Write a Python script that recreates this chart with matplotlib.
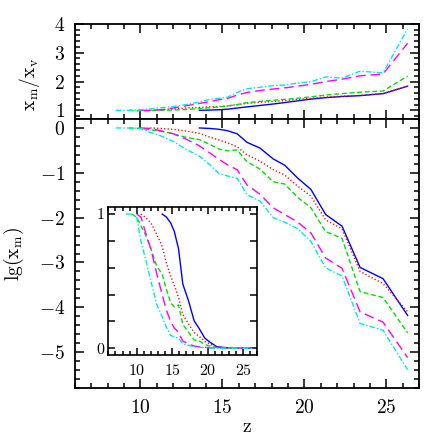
import numpy as np
import matplotlib
matplotlib.use('Agg')
import matplotlib.pyplot as plt
from matplotlib.ticker import MultipleLocator, FixedLocator, NullFormatter, FixedFormatter

plt.rcParams['font.family'] = ['cmr10', 'DejaVu Serif']
plt.rcParams['mathtext.fontset'] = 'cm'
plt.rcParams['axes.formatter.use_mathtext'] = True

nan = np.nan
z = [8.5, 9.3, 10.0, 10.6, 11.2, 12.0, 12.8, 13.6, 14.2, 14.8, 15.3, 15.9,
     16.5, 17.3, 18.1, 18.8, 19.6, 20.4, 21.3, 22.3, 23.4, 24.8, 26.3]

lg_blue = [nan]*7 + [0, -0.01, -0.03, -0.06, -0.13, -0.32, -0.45, -0.69, -0.83,
                     -1.12, -1.37, -1.93, -2.19, -3.11, -3.36, -4.18]
lg_red = [nan]*3 + [0.0, -0.01, -0.03, -0.07, -0.12, -0.2, -0.27, -0.33, -0.42,
                    -0.6, -0.74, -0.93, -1.05, -1.3, -1.52, -2.05, -2.25, -3.2,
                    -3.47, -4.1]
lg_green = [nan] + [0, -0.01, -0.04, -0.07, -0.13, -0.21, -0.26, -0.36, -0.47,
                    -0.51, -0.49, -0.75, -0.92, -1.2, -1.25, -1.55, -1.78, -2.31,
                    -2.46, -3.65, -3.78, -4.57]
lg_magenta = [nan]*2 + [0, -0.01, -0.06, -0.13, -0.25, -0.4, -0.55, -0.7, -0.82,
                        -0.93, -1.27, -1.48, -1.78, -1.93, -2.1, -2.34, -2.9,
                        -3.13, -4.1, -4.33, -5.12]
lg_cyan = [0, 0, -0.01, -0.1, -0.17, -0.3, -0.48, -0.63, -0.81, -1.02, -1.07,
           -1.12, -1.49, -1.63, -2.0, -2.1, -2.25, -2.53, -3.12, -3.3, -4.36,
           -4.51, -5.39]

ratio_blue = [nan]*7 + [1.0, 1.01, 1.02, 1.04, 1.08, 1.12, 1.17, 1.22, 1.27,
                        1.33, 1.39, 1.44, 1.48, 1.51, 1.58, 1.84]
ratio_red = [nan]*3 + [1.0, 1.02, 1.05, 1.08, 1.1, 1.12, 1.13, 1.15, 1.2, 1.24,
                       1.28, 1.31, 1.34, 1.38, 1.42, 1.46, 1.49, 1.52, 1.58, 1.84]
ratio_green = [nan] + [1.0, 0.98, 0.99, 1.0, 1.01, 1.03, 1.06, 1.09, 1.12, 1.15,
                       1.2, 1.27, 1.31, 1.35, 1.38, 1.42, 1.47, 1.53, 1.58, 1.63,
                       1.67, 2.19]
ratio_magenta = [nan]*2 + [1.0, 1.0, 1.02, 1.08, 1.16, 1.24, 1.3, 1.37, 1.41,
                           1.53, 1.62, 1.69, 1.74, 1.78, 1.84, 1.9, 2.0, 2.08,
                           2.2, 2.26, 3.33]
ratio_cyan = [1.0, 1.0, 1.02, 1.05, 1.09, 1.13, 1.2, 1.29, 1.38, 1.42, 1.45,
              1.62, 1.75, 1.8, 1.86, 1.88, 1.95, 1.99, 2.16, 2.12, 2.36, 2.3, 3.83]

styles = [
    dict(color='#0000ff', ls='-'),
    dict(color='#ff0000', ls=(0, (0.9, 1.6))),
    dict(color='#00e000', ls=(0, (3.5, 2.0))),
    dict(color='#ff00ff', ls=(0, (7.0, 3.5))),
    dict(color='#00e8e8', ls=(0, (4.0, 1.5, 1.0, 1.5))),
]
lg_all = [lg_blue, lg_red, lg_green, lg_magenta, lg_cyan]
ratio_all = [ratio_blue, ratio_red, ratio_green, ratio_magenta, ratio_cyan]

fig = plt.figure(figsize=(4.43, 4.43), dpi=100)
L, R = 0.169, 0.946
ax_top = fig.add_axes([L, 0.7314, R - L, 0.946 - 0.7314])
ax = fig.add_axes([L, 0.124, R - L, 0.7314 - 0.124])
ax_in = fig.add_axes([0.2445, 0.1986, 0.3363, 0.3348])

def style_axes(a, maj, mnr, lab=14, lw=1.3):
    a.tick_params(which='both', direction='in', top=True, right=True,
                  width=1.1, labelsize=lab)
    a.tick_params(which='major', length=maj)
    a.tick_params(which='minor', length=mnr)
    for s in a.spines.values():
        s.set_linewidth(lw)

for y, st in zip(ratio_all, styles):
    ax_top.plot(z, y, lw=1.0, **st)
for y, st in zip(lg_all, styles):
    ax.plot(z, y, lw=1.0, **st)
for y, st in zip(lg_all, styles):
    ax_in.plot(z, 10 ** np.array(y), lw=1.0, **st)

# top panel
ax_top.set_xlim(6, 27)
ax_top.set_ylim(0.7, 4)
ax_top.xaxis.set_major_locator(MultipleLocator(5))
ax_top.xaxis.set_minor_locator(MultipleLocator(1))
ax_top.xaxis.set_major_formatter(NullFormatter())
ax_top.yaxis.set_major_locator(MultipleLocator(1))
ax_top.yaxis.set_minor_locator(MultipleLocator(0.2))
style_axes(ax_top, 6.5, 3.5)
ax_top.tick_params(axis='y', pad=7)
ax_top.set_ylabel(r'$\mathrm{x_m/x_v}$', fontsize=14)
ax_top.yaxis.set_label_coords(-0.095, 0.37)

# main panel
ax.set_xlim(6, 27)
ax.set_ylim(-5.8, 0.2)
ax.xaxis.set_major_locator(MultipleLocator(5))
ax.xaxis.set_minor_locator(MultipleLocator(1))
ax.yaxis.set_major_locator(MultipleLocator(1))
ax.yaxis.set_minor_locator(MultipleLocator(0.2))
style_axes(ax, 6.5, 3.5)
ax.tick_params(axis='x', pad=8)
ax.tick_params(axis='y', pad=7)
ax.set_ylabel(r'$\mathrm{lg(x_m)}$', fontsize=14)
ax.yaxis.set_label_coords(-0.142, 0.5)
ax.set_xlabel(r'$\mathrm{z}$', fontsize=14, labelpad=1)

# inset
ax_in.set_xlim(6, 27)
ax_in.set_ylim(-0.05, 1.055)
ax_in.xaxis.set_major_locator(MultipleLocator(5))
ax_in.xaxis.set_minor_locator(MultipleLocator(1))
ax_in.yaxis.set_major_locator(FixedLocator([0, 0.2, 0.4, 0.6, 0.8, 1.0]))
ax_in.yaxis.set_major_formatter(FixedFormatter(['0', '', '', '', '', '1']))
style_axes(ax_in, 5, 2.8, lab=11.5, lw=1.2)
ax_in.tick_params(axis='x', pad=6)
ax_in.tick_params(axis='y', pad=3)

fig.savefig('out.png', dpi=100)
